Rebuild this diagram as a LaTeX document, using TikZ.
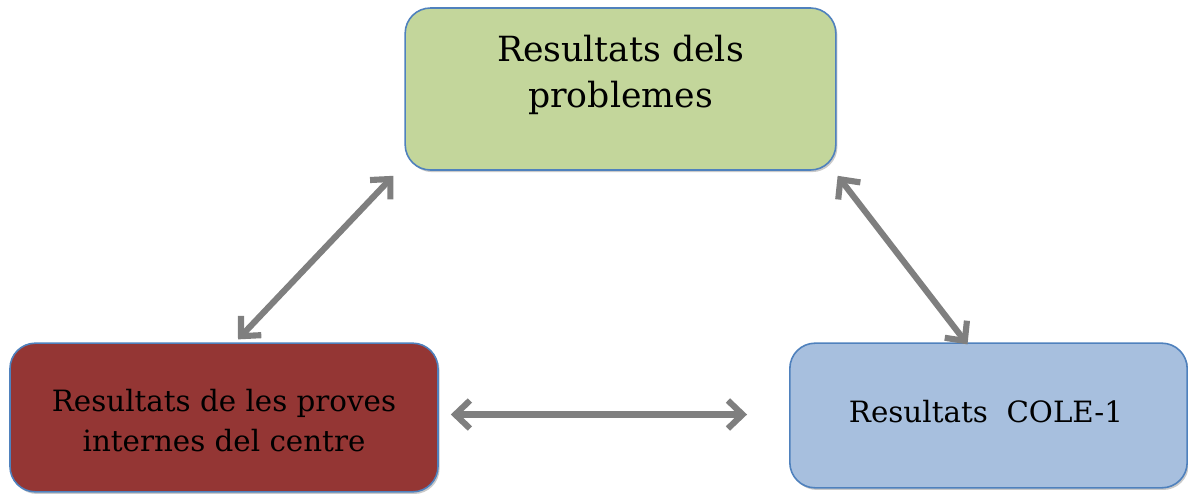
\documentclass[tikz,border=0pt]{standalone}
\usepackage{fontspec}
\setmainfont{DejaVu Serif}
\usetikzlibrary{arrows.meta,calc,shadows}
\definecolor{boxline}{HTML}{4F81BD}
\definecolor{fillgreen}{HTML}{C3D69B}
\definecolor{fillred}{HTML}{943634}
\definecolor{fillblue}{HTML}{A7BFDE}
\definecolor{arrowgray}{HTML}{7F7F7F}
\tikzset{
  resbox/.style={draw=boxline, line width=1.2pt, rounded corners=19pt, inner sep=0pt,
    drop shadow={shadow xshift=1.2pt, shadow yshift=-1.6pt, fill=black!35, opacity=0.6}},
  restext/.style={align=center, inner sep=0pt, font=\fontsize{22}{30}\selectfont},
  dblarrow/.style={{Straight Barb[length=11pt,width=21pt]}-{Straight Barb[length=11pt,width=21pt]},
    draw=arrowgray, line width=4.6pt, line join=round}
}
\begin{document}
\begin{tikzpicture}[x=0.75pt,y=0.75pt,yscale=-1]
\useasboundingbox (0,0) rectangle (1188,497);
%Shape: Rounded Rectangle [top]
\node [resbox, fill=fillgreen, minimum width=323pt, minimum height=121.5pt] (prob) at (620.5,89) {};
%Shape: Rounded Rectangle [left]
\node [resbox, fill=fillred, minimum width=321pt, minimum height=111.5pt] (prov) at (224,417.5) {};
%Shape: Rounded Rectangle [right]
\node [resbox, fill=fillblue, minimum width=298pt, minimum height=108.5pt] (cole) at (988.5,415.5) {};
% Text Node
\node [restext, font=\fontsize{26}{34}\selectfont] (probtxt) at (620.5,75) {Resultats dels\\problemes};
% Text Node
\node [restext] (provtxt) at (224,421) {Resultats de les proves\\internes del centre};
% Text Node
\node [restext] (coletxt) at (986,412) {Resultats\ \ COLE-1};
%Straight Lines [double arrows]
\draw [dblarrow] ($(prov.north)+(14,-3)$) -- ($(prob.south west)+(-11,5)$);
\draw [dblarrow] ($(prob.south east)+(1,5)$) -- ($(cole.north)+(-21,2)$);
\draw [dblarrow] ($(prov.east)+(12,-3)$) -- ($(cole.west)+(-42,-1)$);
\end{tikzpicture}
\end{document}
